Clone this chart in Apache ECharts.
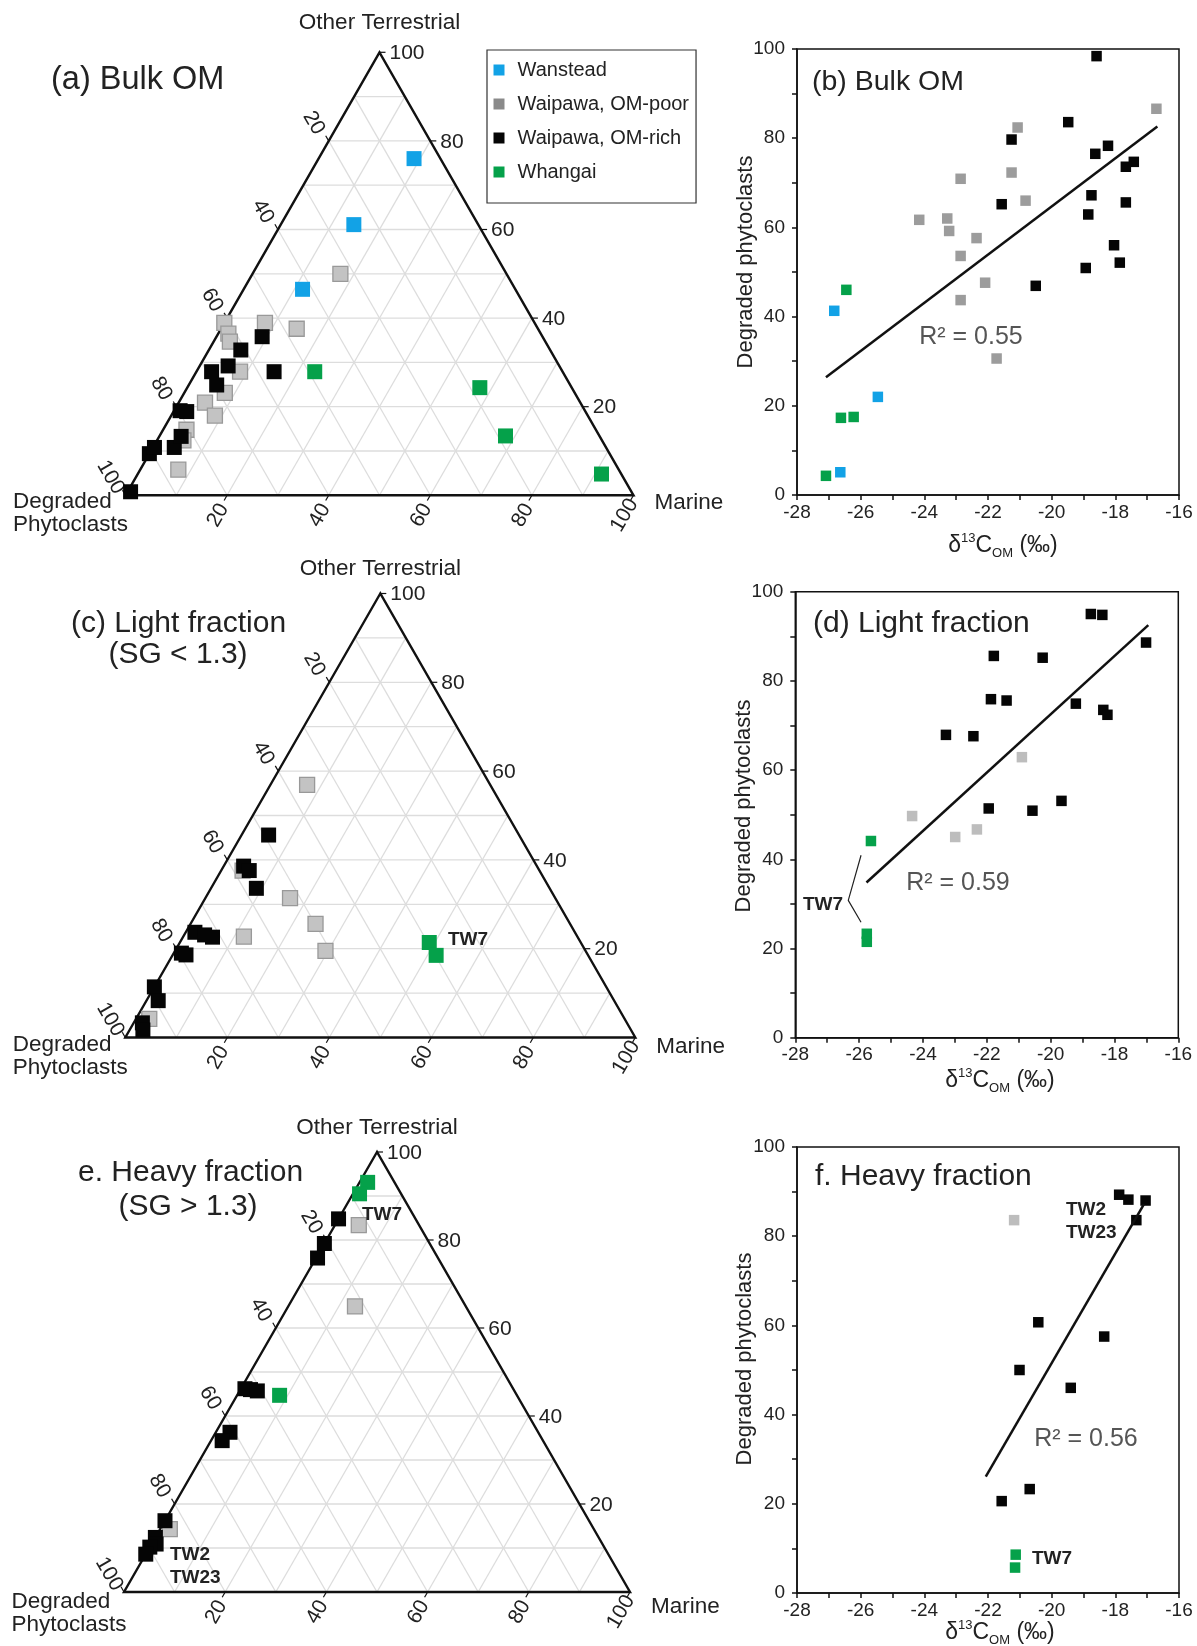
<!DOCTYPE html>
<html>
<head>
<meta charset="utf-8">
<script src="https://cdn.jsdelivr.net/npm/echarts@6.0.0/dist/echarts.min.js"></script>
<style>html,body{margin:0;padding:0;background:#fff}#main{width:1197px;height:1646px}</style>
</head>
<body>
<div id="main"></div>
<script>
// ===================== DATA =====================
// Ternary compositions: [Degraded phytoclasts, Other terrestrial, Marine] (%)
const bulkTernWanstead = [[5.2,76.0,18.8],[24.5,61.1,14.4],[41.9,46.5,11.6]];
const bulkTernPoor = [[86.7,5.8,7.5],[80.6,14.8,4.6],[82.4,12.4,5.2],[73.9,20.9,5.2],[73.4,18.0,8.6],[68.9,23.1,8.0],[63.5,27.9,8.6],[61.1,38.9,0.0],[61.5,36.5,2.0],[62.1,34.7,3.2],[53.1,38.9,8.0],[47.5,37.6,14.9],[32.7,50.0,17.3]];
const bulkTernRich = [[98.6,0.8,0.6],[90.6,9.4,0.0],[88.9,10.8,0.3],[85.0,10.8,4.2],[82.4,13.3,4.3],[79.7,19.1,1.2],[78.5,18.9,2.6],[69.6,24.9,5.5],[69.1,27.9,3.0],[65.2,29.2,5.6],[60.9,32.8,6.3],[55.2,35.8,9.0],[56.8,27.9,15.3]];
const bulkTernWhangai = [[48.8,27.9,23.3],[18.1,24.3,57.6],[18.5,13.4,68.1],[3.9,4.8,91.3]];

const lightTernRich = [[49.1,45.6,5.3],[57.5,38.6,3.9],[56.9,37.6,5.5],[57.5,33.6,8.9],[74.5,23.7,1.8],[72.9,23.1,4.0],[71.6,22.6,5.8],[79.5,19.0,1.5],[78.8,18.6,2.6],[88.6,11.4,0.0],[89.4,8.3,2.3],[95.0,3.3,1.7],[95.7,1.7,2.6]];
const lightTernPoor = [[93.2,4.2,2.6],[65.4,22.7,11.9],[52.0,31.4,16.6],[49.9,25.6,24.5],[51.0,19.5,29.5],[58.2,37.6,4.2],[35.9,56.9,7.2]];
const lightTernWhangai = [[29.7,21.4,48.9],[29.8,18.5,51.7]];

const heavyTernRich = [[60.9,36.3,2.8],[63.4,34.4,2.2],[83.8,16.2,0.0],[87.6,12.4,0.0],[88.2,10.9,0.9],[89.8,10.2,0.0],[91.4,8.6,0.0],[15.2,84.8,0.0],[20.8,79.2,0.0],[23.8,75.9,0.3],[53.0,46.2,0.8],[52.0,46.0,2.0],[50.8,45.7,3.5]];
const heavyTernPoor = [[83.8,14.3,1.9],[11.9,83.4,4.7],[21.9,64.9,13.2]];
const heavyTernWhangai = [[5.3,93.1,1.6],[8.2,90.5,1.3],[46.9,44.7,8.4]];

// Scatter: [d13C_OM (permil), Degraded phytoclasts (%)]
const bulkScatWanstead = [[-26.83,41.3],[-25.46,22.0],[-26.64,5.1]];
const bulkScatPoor = [[-16.71,86.6],[-21.07,82.4],[-21.26,72.3],[-22.86,70.9],[-20.82,66.0],[-24.16,61.7],[-23.28,62.0],[-23.22,59.2],[-22.36,57.6],[-22.86,53.6],[-22.09,47.6],[-22.86,43.7],[-21.73,30.6]];
const bulkScatRich = [[-18.59,98.4],[-19.48,83.6],[-21.26,79.7],[-18.23,78.3],[-18.63,76.5],[-17.42,74.7],[-17.67,73.6],[-18.75,67.2],[-21.57,65.2],[-17.67,65.6],[-18.85,62.9],[-18.04,56.0],[-17.86,52.1],[-18.93,50.9],[-20.50,46.9]];
const bulkScatWhangai = [[-26.45,46.0],[-26.62,17.3],[-26.22,17.5],[-27.09,4.3]];
const bulkTrend = [[-27.09,26.4],[-16.68,82.6]];

const lightScatRich = [[-18.74,95.0],[-18.38,94.8],[-17.01,88.6],[-21.78,85.6],[-20.25,85.2],[-21.87,75.9],[-21.38,75.6],[-19.21,74.9],[-18.35,73.5],[-18.22,72.4],[-23.28,67.9],[-22.42,67.6],[-19.66,53.1],[-21.94,51.4],[-20.57,50.9]];
const lightScatPoor = [[-20.90,62.9],[-24.34,49.7],[-22.31,46.7],[-22.99,45.0]];
const lightScatWhangai = [[-25.63,44.1],[-25.76,23.3],[-25.76,21.5]];
const lightTrend = [[-25.77,34.8],[-16.94,92.5]];
const lightBracket = [[-25.94,40.9],[-26.34,30.8],[-25.94,25.9]];

const heavyScatRich = [[-17.88,89.3],[-17.59,88.2],[-17.05,88.0],[-17.34,83.6],[-20.42,60.7],[-18.35,57.5],[-21.01,50.0],[-19.40,46.0],[-20.69,23.3],[-21.57,20.6]];
const heavyScatPoor = [[-21.18,83.6]];
const heavyScatWhangai = [[-21.13,8.6],[-21.15,5.7]];
const heavyTrend = [[-22.07,26.1],[-17.10,87.2]];

const ternTicks = [20, 40, 60, 80, 100];
const groupNames = ['Wanstead', 'Waipawa, OM-poor', 'Waipawa, OM-rich', 'Whangai'];

// ===================== STYLE =====================
const FONT = "'Liberation Sans', Arial, Helvetica, sans-serif";
const BLUE = '#12a2e6', GREEN = '#05a14a', BLACK = '#050505', GREY_LEG = '#8a8a8a';
const GRIDC = '#dddddd';

const ternGrids = [
  {left: 125.5, top: 52.3, width: 508, height: 443},
  {left: 125.3, top: 593.5, width: 510, height: 444},
  {left: 124, top: 1152, width: 506, height: 440}
];
const ternCfg = [
  {topDy: -30, dp1: 6.5, dp2: 29, mDy: 7.5},
  {topDy: -25, dp1: 7, dp2: 30, mDy: 9.5},
  {topDy: -24, dp1: 9.5, dp2: 33, mDy: 15}
];
const scatGrids = [
  {left: 797, top: 49, width: 382, height: 446},
  {left: 795.3, top: 591.7, width: 383, height: 446},
  {left: 797, top: 1147, width: 382, height: 446}
];

function toXY(arr) {
  return arr.map(function (r) {
    const s = r[0] + r[1] + r[2];
    const ot = r[1] * 100 / s, m = r[2] * 100 / s;
    return [m + ot / 2, ot];
  });
}
function tline(a, b, color, w) {
  return {type: 'line', silent: true, shape: {x1: a[0], y1: a[1], x2: b[0], y2: b[1]}, style: {stroke: color, lineWidth: w}};
}
function ttext(s, x, y, opt) {
  opt = opt || {};
  const align = opt.align || 'left';
  return {type: 'text', x: x, y: y, rotation: opt.rot || 0, silent: true,
    style: {text: s, x: 0, y: 0, fill: opt.color || '#222', fontSize: opt.size || 20, fontFamily: FONT,
      fontWeight: opt.weight || 'normal', align: align, verticalAlign: 'middle', textAlign: align, textVerticalAlign: 'middle'}};
}
function ternaryFrame(cfg) {
  return function (params, api) {
    const C = function (m, ot) { return api.coord([m + ot / 2, ot]); };
    const ch = [];
    for (let k = 1; k < 10; k++) {
      const v = k * 10;
      ch.push(tline(C(0, v), C(100 - v, v), GRIDC, 1.3));
      ch.push(tline(C(v, 0), C(v, 100 - v), GRIDC, 1.3));
      ch.push(tline(C(0, 100 - v), C(100 - v, 0), GRIDC, 1.3));
    }
    const A = C(0, 100), L = C(0, 0), R = C(100, 0);
    ch.push({type: 'polygon', silent: true, shape: {points: [A, L, R]}, style: {fill: 'none', stroke: '#111', lineWidth: 2.4}});
    ternTicks.forEach(function (v) {
      let P = C(100 - v, v);
      ch.push(tline(P, [P[0] + 6, P[1]], '#111', 1.2));
      ch.push(ttext(String(v), P[0] + 10, P[1] + 1, {size: 21}));
      P = C(0, 100 - v);
      ch.push(tline(P, [P[0] - 3, P[1] - 5.2], '#111', 1.2));
      ch.push(ttext(String(v), P[0] - 15, P[1] - 18, {size: 21, align: 'center', rot: -Math.PI / 3}));
      P = C(v, 0);
      ch.push(tline(P, [P[0] - 3, P[1] + 5.2], '#111', 1.2));
      ch.push(ttext(String(v), P[0] - 9, P[1] + 20, {size: 21, align: 'center', rot: Math.PI / 3}));
    });
    ch.push(ttext('Other Terrestrial', A[0], A[1] + cfg.topDy, {size: 22.5, align: 'center'}));
    ch.push(ttext('Degraded', L[0] - 112.5, L[1] + cfg.dp1, {size: 22.5}));
    ch.push(ttext('Phytoclasts', L[0] - 112.5, L[1] + cfg.dp2, {size: 22.5}));
    ch.push(ttext('Marine', R[0] + 21, R[1] + cfg.mDy, {size: 22.5}));
    return {type: 'group', children: ch};
  };
}

// ===================== BUILD =====================
const grid = [], xAxis = [], yAxis = [], series = [];
const panels = [
  {tern: [bulkTernWanstead, bulkTernPoor, bulkTernRich, bulkTernWhangai],
   scat: [bulkScatWanstead, bulkScatPoor, bulkScatRich, bulkScatWhangai], trend: bulkTrend, grey: '#9c9c9c'},
  {tern: [[], lightTernPoor, lightTernRich, lightTernWhangai],
   scat: [[], lightScatPoor, lightScatRich, lightScatWhangai], trend: lightTrend, bracket: lightBracket, grey: '#bdbdbd'},
  {tern: [[], heavyTernPoor, heavyTernRich, heavyTernWhangai],
   scat: [[], heavyScatPoor, heavyScatRich, heavyScatWhangai], trend: heavyTrend, grey: '#bdbdbd'}
];
const order = [1, 2, 0, 3]; // draw order: poor, rich, Wanstead, Whangai

panels.forEach(function (p, i) {
  const tg = i * 2, sg = i * 2 + 1;
  grid.push(Object.assign({}, ternGrids[i]));
  xAxis.push({gridIndex: tg, type: 'value', min: 0, max: 100, show: false});
  yAxis.push({gridIndex: tg, type: 'value', min: 0, max: 100, show: false});
  series.push({type: 'custom', xAxisIndex: tg, yAxisIndex: tg, data: [[50, 50]], clip: false, silent: true, z: 1,
    renderItem: ternaryFrame(ternCfg[i])});
  order.forEach(function (g) {
    if (!p.tern[g].length) return;
    const st = g === 1 ? {color: '#c3c3c3', borderColor: '#999999', borderWidth: 1.3, opacity: 1}
      : {color: [BLUE, null, BLACK, GREEN][g], opacity: 1};
    series.push({type: 'scatter', name: groupNames[g], xAxisIndex: tg, yAxisIndex: tg, symbol: 'rect', symbolSize: 15,
      itemStyle: st, data: toXY(p.tern[g]), z: 3});
  });
  grid.push(Object.assign({show: true, borderColor: '#111', borderWidth: 1.5, backgroundColor: 'transparent'}, scatGrids[i]));
  xAxis.push({gridIndex: sg, type: 'value', min: -28, max: -16, interval: 1,
    axisLine: {lineStyle: {color: '#111', width: 1.5}},
    axisTick: {inside: false, length: 5, lineStyle: {color: '#111', width: 1.5}},
    axisLabel: {formatter: function (v) { return v % 2 === 0 ? String(v) : ''; }, fontSize: 19, color: '#222', fontFamily: FONT, margin: 8},
    splitLine: {show: false}});
  yAxis.push({gridIndex: sg, type: 'value', min: 0, max: 100, interval: 10,
    axisLine: {lineStyle: {color: '#111', width: 1.5}},
    axisTick: {inside: false, length: 5, lineStyle: {color: '#111', width: 1.5}},
    axisLabel: {formatter: function (v) { return v % 20 === 0 ? String(v) : ''; }, fontSize: 19, color: '#222', fontFamily: FONT, margin: 12},
    splitLine: {show: false}});
  order.forEach(function (g) {
    if (!p.scat[g].length) return;
    series.push({type: 'scatter', name: groupNames[g], xAxisIndex: sg, yAxisIndex: sg, symbol: 'rect', symbolSize: 10.5,
      itemStyle: {color: [BLUE, p.grey, BLACK, GREEN][g], opacity: 1}, data: p.scat[g], z: 3});
  });
  series.push({type: 'line', xAxisIndex: sg, yAxisIndex: sg, data: p.trend, symbol: 'none', silent: true,
    lineStyle: {color: '#111', width: 2.5}, z: 4});
  if (p.bracket) {
    series.push({type: 'line', xAxisIndex: sg, yAxisIndex: sg, data: p.bracket, symbol: 'none', silent: true,
      lineStyle: {color: '#222', width: 1.2}, z: 4});
  }
});

function gtext(s, x, y, o) {
  o = o || {};
  const align = o.align || 'left';
  return {type: 'text', x: x, y: y, rotation: o.rot || 0, silent: true, z: 10,
    style: {text: s, fill: o.color || '#222', fontSize: o.size || 30, fontFamily: FONT, fontWeight: o.weight || 'normal',
      align: align, verticalAlign: 'middle', textAlign: align, textVerticalAlign: 'middle'}};
}
function xName(x, y) {
  return {type: 'text', x: x, y: y, silent: true, z: 10,
    style: {text: '{a|δ}{b|13}{a|C}{c|OM}{a| (‰)}', align: 'center', verticalAlign: 'middle', textAlign: 'center', textVerticalAlign: 'middle',
      fontFamily: FONT, fontSize: 24, fill: '#222',
      rich: {
        a: {fontSize: 23, fontFamily: FONT, fill: '#222', color: '#222', lineHeight: 28, verticalAlign: 'middle'},
        b: {fontSize: 13, fontFamily: FONT, fill: '#222', color: '#222', lineHeight: 13, verticalAlign: 'top'},
        c: {fontSize: 13, fontFamily: FONT, fill: '#222', color: '#222', lineHeight: 13, verticalAlign: 'bottom'}
      }}};
}
const graphics = [
  gtext('(a) Bulk OM', 51, 80, {size: 32.5}),
  gtext('(b) Bulk OM', 812, 82, {size: 28.5}),
  gtext('(c) Light fraction', 71, 624),
  gtext('(SG < 1.3)', 178, 655, {align: 'center'}),
  gtext('(d) Light fraction', 813, 624),
  gtext('e. Heavy fraction', 78, 1173),
  gtext('(SG > 1.3)', 188, 1207, {align: 'center'}),
  gtext('f. Heavy fraction', 815, 1177),
  gtext('R² = 0.55', 971, 337, {size: 25, color: '#555', align: 'center'}),
  gtext('R² = 0.59', 958, 883, {size: 25, color: '#555', align: 'center'}),
  gtext('R² = 0.56', 1086, 1439, {size: 25, color: '#555', align: 'center'}),
  gtext('TW7', 448, 940, {size: 19, weight: 'bold'}),
  gtext('TW7', 362, 1215, {size: 19, weight: 'bold'}),
  gtext('TW2', 170, 1555, {size: 19, weight: 'bold'}),
  gtext('TW23', 170, 1578, {size: 19, weight: 'bold'}),
  gtext('TW7', 843, 905, {size: 19, weight: 'bold', align: 'right'}),
  gtext('TW2', 1066, 1210, {size: 19, weight: 'bold'}),
  gtext('TW23', 1066, 1233, {size: 19, weight: 'bold'}),
  gtext('TW7', 1032, 1559, {size: 19, weight: 'bold'}),
  gtext('Degraded phytoclasts', 746, 262, {size: 22, align: 'center', rot: Math.PI / 2}),
  gtext('Degraded phytoclasts', 744, 806, {size: 22, align: 'center', rot: Math.PI / 2}),
  gtext('Degraded phytoclasts', 745, 1359, {size: 22, align: 'center', rot: Math.PI / 2}),
  xName(1003, 546),
  xName(1000, 1081),
  xName(1000, 1633)
];

const chart = echarts.init(document.getElementById('main'), null, {renderer: 'canvas'});
chart.setOption({
  animation: false,
  backgroundColor: '#fff',
  textStyle: {fontFamily: FONT},
  legend: {
    orient: 'vertical', left: 487, top: 50, selectedMode: false,
    icon: 'rect', itemWidth: 11, itemHeight: 11, itemGap: 14,
    data: [
      {name: groupNames[0], itemStyle: {color: BLUE, borderWidth: 0}},
      {name: groupNames[1], itemStyle: {color: GREY_LEG, borderWidth: 0}},
      {name: groupNames[2], itemStyle: {color: BLACK, borderWidth: 0}},
      {name: groupNames[3], itemStyle: {color: GREEN, borderWidth: 0}}
    ],
    textStyle: {fontSize: 20, color: '#222', fontFamily: FONT, lineHeight: 20, padding: [0, 0, 0, 8]},
    padding: [10, 7, 21, 6.5],
    borderColor: '#333', borderWidth: 1.2, backgroundColor: '#fff'
  },
  grid: grid,
  xAxis: xAxis,
  yAxis: yAxis,
  series: series,
  graphic: {elements: graphics}
});
</script>
</body>
</html>
